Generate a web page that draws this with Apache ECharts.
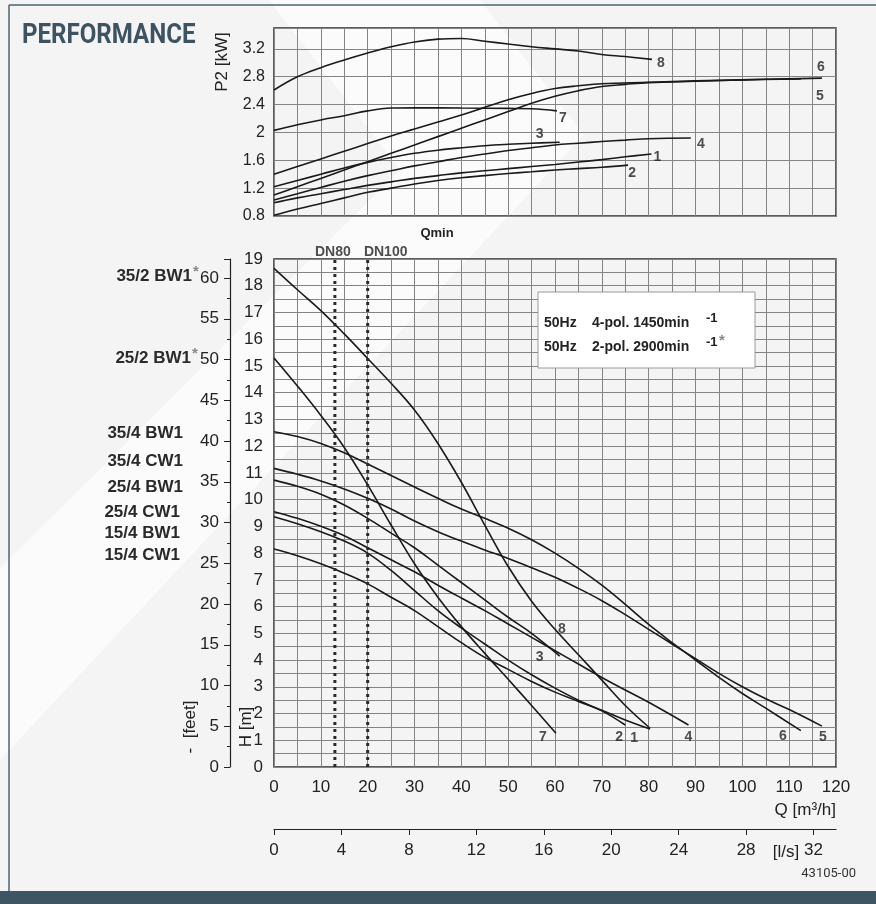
<!DOCTYPE html>
<html>
<head>
<meta charset="utf-8">
<script src="https://cdn.jsdelivr.net/npm/echarts/dist/echarts.min.js"></script>
<style>
html,body{margin:0;padding:0;background:#f4f4f4;}
#c{width:876px;height:904px;}
</style>
</head>
<body>
<div id="c"></div>
<script>
// ---------------- DATA ----------------
// Q in m3/h, P2 in kW
const powerCurve1 = [[0,0.99],[5,1.06],[10,1.12],[15,1.18],[20,1.24],[25,1.29],[30,1.34],[35,1.38],[40,1.42],[45,1.45],[50,1.48],[55,1.51],[60,1.54],[65,1.575],[70,1.61],[75,1.65],[80.6,1.69]];
const powerCurve2 = [[0,0.81],[5,0.90],[10,0.98],[15,1.06],[20,1.14],[25,1.20],[30,1.26],[35,1.31],[40,1.35],[45,1.38],[50,1.41],[55,1.435],[60,1.46],[65,1.48],[70,1.50],[75.6,1.53]];
const powerCurve3 = [[0,1.22],[5,1.31],[10,1.40],[15,1.49],[20,1.57],[25,1.64],[30,1.70],[35,1.745],[40,1.78],[45,1.81],[50,1.83],[55,1.845],[61,1.86]];
const powerCurve4 = [[0,1.03],[5,1.12],[10,1.21],[15,1.30],[20,1.38],[25,1.45],[30,1.52],[35,1.58],[40,1.64],[45,1.69],[50,1.74],[55,1.78],[60,1.82],[65,1.845],[70,1.87],[75,1.89],[80,1.91],[89,1.92]];
const powerCurve5 = [[0,1.10],[5,1.22],[10,1.34],[15,1.46],[20,1.58],[25,1.70],[30,1.82],[35,1.94],[40,2.06],[45,2.18],[50,2.30],[55,2.42],[60,2.52],[65,2.60],[70,2.66],[75,2.69],[80,2.715],[90,2.735],[100,2.755],[110,2.77],[117,2.78]];
const powerCurve6 = [[0,1.40],[5,1.51],[10,1.62],[15,1.73],[20,1.84],[25,1.95],[30,2.05],[35,2.15],[40,2.25],[45,2.36],[50,2.47],[55,2.56],[60,2.63],[65,2.67],[70,2.70],[80,2.72],[90,2.74],[100,2.755],[112.5,2.77]];
const powerCurve7 = [[0,2.03],[5,2.11],[10,2.18],[15,2.24],[20,2.31],[25,2.35],[30,2.355],[40,2.35],[50,2.345],[55,2.34],[60.4,2.31]];
const powerCurve8 = [[0,2.61],[5,2.80],[10,2.93],[15,3.04],[20,3.14],[25,3.23],[30,3.30],[35,3.34],[40,3.35],[45,3.31],[50,3.27],[55,3.23],[60,3.20],[65,3.17],[70,3.12],[75,3.09],[80.7,3.05]];

// Q in m3/h, H in m
const headCurve1 = [[0,9.36],[5,9.1],[10,8.8],[15,8.45],[20,8.0],[25,7.35],[30,6.6],[35,5.85],[40,5.2],[45,4.6],[50,4.0],[55,3.45],[60,2.95],[65,2.5],[70,2.12],[75,1.76],[80.3,1.42]];
const headCurve2 = [[0,8.15],[5,7.9],[10,7.6],[15,7.25],[20,6.85],[25,6.35],[30,5.85],[35,5.25],[40,4.65],[45,4.1],[50,3.65],[55,3.2],[60,2.8],[65,2.45],[70,2.1],[75,1.57]];
const headCurve3 = [[0,10.73],[5,10.5],[10,10.2],[15,9.8],[20,9.3],[25,8.75],[30,8.2],[35,7.55],[40,6.9],[45,6.25],[50,5.6],[55,5.0],[61,4.15]];
const headCurve4 = [[0,9.55],[5,9.3],[10,9.0],[15,8.65],[20,8.2],[25,7.75],[30,7.3],[35,6.8],[40,6.32],[45,5.85],[50,5.35],[55,4.85],[60,4.35],[65,3.85],[70,3.35],[75,2.88],[80,2.42],[88.5,1.57]];
const headCurve5 = [[0,11.17],[5,10.95],[10,10.7],[15,10.4],[20,10.05],[25,9.65],[30,9.2],[35,8.8],[40,8.45],[45,8.12],[50,7.8],[55,7.45],[60,7.1],[65,6.68],[70,6.22],[75,5.7],[80,5.15],[85,4.6],[90,4.05],[95,3.5],[100,3.0],[105,2.55],[110,2.15],[117,1.53]];
const headCurve6 = [[0,12.54],[5,12.36],[10,12.1],[15,11.75],[20,11.33],[25,10.9],[30,10.47],[35,10.05],[40,9.65],[45,9.3],[50,8.93],[55,8.5],[60,8.0],[65,7.43],[70,6.8],[75,6.08],[80,5.33],[85,4.65],[90,4.0],[95,3.35],[100,2.75],[105,2.2],[112.5,1.36]];
const headCurve7 = [[0,15.3],[5,14.25],[10,13.15],[15,11.95],[20,10.55],[25,9.05],[30,7.6],[35,6.35],[40,5.25],[45,4.25],[50,3.28],[55,2.3],[60.2,1.26]];
const headCurve8 = [[0,18.65],[5,17.85],[10,17.07],[15,16.2],[20,15.28],[25,14.35],[30,13.35],[35,12.1],[40,10.65],[45,9.05],[50,7.5],[55,6.2],[60,5.15],[65,4.2],[70,3.25],[75,2.3],[80.3,1.45]];

const curveIds = ['1','2','3','4','5','6','7','8'];
const pipeQ = [13, 20];
const pipeNames = ['DN80', 'DN100'];
const modelNames = ['35/2 BW1','25/2 BW1','35/4 BW1','35/4 CW1','25/4 BW1','25/4 CW1','15/4 BW1','15/4 CW1'];
const modelStar = [true, true, false, false, false, false, false, false];
const speedRows = [['50Hz','4-pol. 1450min','-1',''],['50Hz','2-pol. 2900min','-1','*']];
const flowMaxM3h = 120;
const headMaxM = 19;
const powerMin = 0.8, powerMax = 3.5;
const m3hPerLs = 3.6;
const feetPerM = 3.28084;

// ---------------- STYLE ----------------
const FONT = '"Liberation Sans", Arial, sans-serif';
const INK = '#1a1a1a';
const GRIDC = '#848484';
const topLabelOffsets = {8:[9,4],7:[6,7],3:[-20,-8],4:[10,6],1:[6,3],2:[4,8],6:[20,-12],5:[-2,18]};
const headLabelOffsets = {7:[-13,4],2:[-6,12],1:[-16,9],4:[0,12],6:[-18,6],5:[1,11],3:[-20,1],8:[7,0]};
const headLabelAnchorQ = {8:60};
const modelLabelY = [276,358,433,461,487,512,533,555];
const modelLabelRight = [192,191,183,183,183,180,180,180];

const powerCurves = {1:powerCurve1,2:powerCurve2,3:powerCurve3,4:powerCurve4,5:powerCurve5,6:powerCurve6,7:powerCurve7,8:powerCurve8};
const headCurves = {1:headCurve1,2:headCurve2,3:headCurve3,4:headCurve4,5:headCurve5,6:headCurve6,7:headCurve7,8:headCurve8};

const lastPt = a => a[a.length-1];

const series = [];
curveIds.forEach(id => {
  series.push({type:'line', name:'P'+id, xAxisIndex:0, yAxisIndex:0, data:powerCurves[id], showSymbol:false, smooth:0.4,
    lineStyle:{color:INK, width:1.6}, silent:true, z:3});
  series.push({type:'line', name:'H'+id, xAxisIndex:1, yAxisIndex:1, data:headCurves[id], showSymbol:false, smooth:0.4,
    lineStyle:{color:INK, width:1.6}, silent:true, z:3});
});
// pipe size dotted lines
pipeQ.forEach((q,i) => {
  series.push({type:'line', xAxisIndex:1, yAxisIndex:1, data:[[q,0],[q,headMaxM]], showSymbol:false, silent:true, z:4,
    lineStyle:{color:'#2a2a2a', width:3, type:[3,4]}});
});
const lblStyle = {show:true, position:'inside', fontFamily:FONT, fontWeight:'bold', fontSize:14, color:'#222'};
series.push({type:'scatter', xAxisIndex:1, yAxisIndex:1, symbolSize:0, silent:true, z:5,
  data: pipeQ.map((q,i)=>({value:[q,headMaxM], label:Object.assign({}, lblStyle, {formatter:pipeNames[i], offset: i===0?[-2,-7]:[18,-7]})}))});
series.push({type:'scatter', xAxisIndex:0, yAxisIndex:0, symbolSize:0, silent:true, z:5,
  data: curveIds.map(id=>({value:lastPt(powerCurves[id]), label:Object.assign({}, lblStyle, {formatter:id, offset:topLabelOffsets[id]})}))});
series.push({type:'scatter', xAxisIndex:1, yAxisIndex:1, symbolSize:0, silent:true, z:5,
  data: curveIds.map(id=>{
    const c = headCurves[id];
    const p = headLabelAnchorQ[id]!==undefined ? c.find(v=>v[0]===headLabelAnchorQ[id]) : lastPt(c);
    return {value:p, label:Object.assign({}, lblStyle, {formatter:id, offset:headLabelOffsets[id]})};
  })});

const splitLine = {show:true, lineStyle:{color:GRIDC, width:1}};
const axLbl = {color:'#222', fontFamily:FONT, fontSize:17};

const graphics = [
  {type:'polygon', z:-10, silent:true, shape:{points:[[269,0],[480,0],[584,135],[0,760],[0,568],[400,170]]}, style:{fill:'#fbfbfb'}},
  {type:'rect', silent:true, shape:{x:0,y:891,width:876,height:13}, style:{fill:'#3e5563'}},
  {type:'line', silent:true, shape:{x1:9,y1:5,x2:876,y2:5}, style:{stroke:'#4d6370', lineWidth:1.5}},
  {type:'line', silent:true, shape:{x1:9,y1:5,x2:9,y2:891}, style:{stroke:'#4d6370', lineWidth:1.5}},
  {type:'text', silent:true, x:22, y:36, scaleX:0.86, style:{text:'PERFORMANCE', fill:'#3d5361', font:'bold 28px Roboto, "Liberation Sans", sans-serif', textVerticalAlign:'middle', verticalAlign:'middle'}},
  {type:'text', silent:true, x:222, y:62, rotation:Math.PI/2, style:{text:'P2 [kW]', fill:'#222', font:'17px '+FONT, textAlign:'center', align:'center', textVerticalAlign:'middle', verticalAlign:'middle'}},
  {type:'text', silent:true, x:246, y:727, rotation:Math.PI/2, style:{text:'H [m]', fill:'#222', font:'17px '+FONT, textAlign:'center', align:'center', textVerticalAlign:'middle', verticalAlign:'middle'}},
  {type:'text', silent:true, x:190, y:727, rotation:Math.PI/2, style:{text:'-  [feet]', fill:'#222', font:'17px '+FONT, textAlign:'center', align:'center', textVerticalAlign:'middle', verticalAlign:'middle'}},
  {type:'text', silent:true, x:437, y:233, style:{text:'Qmin', fill:'#222', font:'bold 13px '+FONT, textAlign:'center', align:'center', textVerticalAlign:'middle', verticalAlign:'middle'}},
  {type:'text', silent:true, x:836, y:810, style:{text:'Q [m\u00b3/h]', fill:'#222', font:'17px '+FONT, textAlign:'right', align:'right', textVerticalAlign:'middle', verticalAlign:'middle'}},
  {type:'text', silent:true, x:786, y:852, style:{text:'[l/s]', fill:'#222', font:'17px '+FONT, textAlign:'center', align:'center', textVerticalAlign:'middle', verticalAlign:'middle'}},
  {type:'text', silent:true, x:856, y:874, style:{text:'43105-00', fill:'#333', font:'13px Roboto, '+FONT, textAlign:'right', align:'right', textVerticalAlign:'middle', verticalAlign:'middle'}},
  {type:'rect', silent:true, z:10, shape:{x:538,y:292,width:217,height:76}, style:{fill:'#ffffff', stroke:'#9a9a9a', lineWidth:1}}
];
modelNames.forEach((n,i)=>{
  graphics.push({type:'text', silent:true, x:modelLabelRight[i], y:modelLabelY[i], style:{text:n, fill:'#2a2a2a', font:'bold 17px '+FONT, textAlign:'right', align:'right', textVerticalAlign:'middle', verticalAlign:'middle'}});
  if (modelStar[i]) graphics.push({type:'text', silent:true, x:modelLabelRight[i]+1, y:modelLabelY[i]-4, style:{text:'*', fill:'#888', font:'bold 15px '+FONT, textAlign:'left', align:'left', textVerticalAlign:'middle', verticalAlign:'middle'}});
});
speedRows.forEach((r,i)=>{
  const y = 323 + i*24;
  graphics.push({type:'text', silent:true, z:11, x:544, y:y, style:{text:r[0], fill:'#222', font:'bold 14px '+FONT, textVerticalAlign:'middle', verticalAlign:'middle'}});
  graphics.push({type:'text', silent:true, z:11, x:592, y:y, style:{text:r[1], fill:'#222', font:'bold 14px '+FONT, textVerticalAlign:'middle', verticalAlign:'middle'}});
  graphics.push({type:'text', silent:true, z:11, x:706, y:y-5, style:{text:r[2], fill:'#222', font:'bold 13px '+FONT, textVerticalAlign:'middle', verticalAlign:'middle'}});
  if (r[3]) graphics.push({type:'text', silent:true, z:11, x:719, y:y-6, style:{text:r[3], fill:'#888', font:'bold 15px '+FONT, textVerticalAlign:'middle', verticalAlign:'middle'}});
});

const option = {
  animation:false,
  backgroundColor:'#f4f4f4',
  grid:[
    {left:274, top:28, width:562, height:188, show:true, borderColor:'#2a2a2a', borderWidth:1.5, backgroundColor:'transparent'},
    {left:274, top:259, width:562, height:508, show:true, borderColor:'#2a2a2a', borderWidth:1.5, backgroundColor:'transparent'}
  ],
  xAxis:[
    {type:'value', gridIndex:0, min:0, max:flowMaxM3h, interval:5, axisLabel:{show:false}, axisTick:{show:false}, axisLine:{show:false}, splitLine:splitLine},
    {type:'value', gridIndex:1, min:0, max:flowMaxM3h, interval:5, axisTick:{show:false}, axisLine:{show:false}, splitLine:splitLine,
      axisLabel:Object.assign({}, axLbl, {margin:12, formatter:v=> (v%10===0 ? String(v) : '')})},
    {type:'value', gridIndex:1, position:'bottom', offset:62, min:0, max:flowMaxM3h/m3hPerLs, interval:4,
      axisLine:{show:true, onZero:false, lineStyle:{color:'#222', width:1.2}}, axisTick:{show:true, length:6, lineStyle:{color:'#222'}},
      splitLine:{show:false}, axisLabel:Object.assign({}, axLbl, {margin:13, showMaxLabel:false})}
  ],
  yAxis:[
    {type:'value', gridIndex:0, min:powerMin, max:powerMax, interval:0.4, axisTick:{show:false}, axisLine:{show:false}, splitLine:splitLine,
      axisLabel:Object.assign({}, axLbl, {fontSize:16, margin:9, showMaxLabel:false})},
    {type:'value', gridIndex:1, min:0, max:headMaxM, interval:1, axisTick:{show:false}, axisLine:{show:false}, splitLine:splitLine,
      minorTick:{show:false, splitNumber:2}, minorSplitLine:{show:true, lineStyle:{color:GRIDC, width:1}},
      axisLabel:Object.assign({}, axLbl, {margin:11})},
    {type:'value', gridIndex:1, position:'left', offset:44, min:0, max:headMaxM*feetPerM, interval:5,
      axisLine:{show:true, onZero:false, lineStyle:{color:'#222', width:1.2}}, axisTick:{show:true, length:6, lineStyle:{color:'#222'}},
      minorTick:{show:true, splitNumber:2, length:3, lineStyle:{color:'#222'}}, splitLine:{show:false},
      axisLabel:Object.assign({}, axLbl, {margin:11, showMaxLabel:false})}
  ],
  graphic:{elements:graphics},
  series:series
};
const chart = echarts.init(document.getElementById('c'));
chart.setOption(option);
</script>
</body>
</html>
